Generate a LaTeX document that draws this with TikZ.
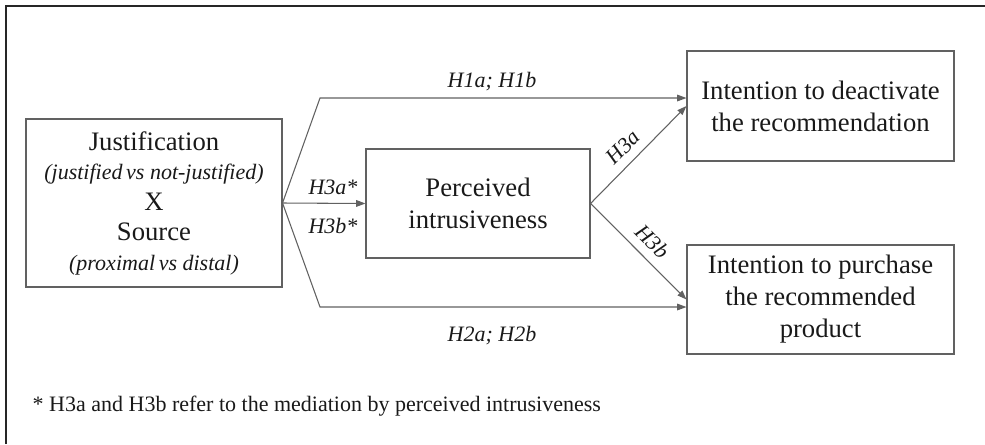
\documentclass[tikz,border=0pt]{standalone}
\usepackage{fontspec}
\setmainfont{Liberation Serif}
\usetikzlibrary{arrows.meta}
\definecolor{linegray}{gray}{0.38}
\definecolor{textgray}{gray}{0.1}
\tikzset{
  varbox/.style = {draw = linegray, line width = 0.8pt, inner sep = 0pt, align = center,
    text = textgray, font = \fontsize{20}{24}\selectfont},
  hyp/.style = {text = textgray, font = \fontsize{16.5}{19}\selectfont\itshape},
  path/.style = {draw = linegray, line width = 0.8pt, -{Triangle[length=7pt, width=5pt]}}
}
\begin{document}
\begin{tikzpicture}[x = 0.75pt, y = -0.75pt]
			\useasboundingbox (0,0) rectangle (985,444);
			\draw[line width = 1pt, black!85] (6,444) -- (6,6) -- (985,6);
			% variables
			\node[varbox, minimum width = 192pt, minimum height = 126pt] (jus) at (154,203)
				{Justification\\[-2pt]{\fontsize{16.5}{19}\selectfont\itshape (justified\,vs not-justified)}\\[-1pt]X\\[-1pt]Source\\[-2pt]{\fontsize{16.5}{19}\selectfont\itshape (proximal\,vs distal)}};
			\node[varbox, minimum width = 168pt, minimum height = 81.75pt] (int) at (478,203.5)
				{Perceived\\intrusiveness};
			\node[varbox, minimum width = 200.25pt, minimum height = 82.5pt] (deac) at (820.5,106)
				{Intention to deactivate\\the recommendation};
			\node[varbox, minimum width = 200.25pt, minimum height = 81.75pt] (purch) at (820.5,299.5)
				{Intention to purchase\\the recommended\\product};
			% paths
			\coordinate (up) at (320,98);
			\coordinate (down) at (320,307);
			\draw[path] (jus.east) -- (up) -- (up -| deac.west);
			\draw[path] (jus.east) -- (down) -- (down -| purch.west);
			\draw[path] (jus.east) -- (int.west);
			\draw[path] (int.east) -- node[hyp, midway, above = 3pt, sloped, xshift = -4pt] (h3a) {H3a} (deac.west);
			\draw[path] (int.east) -- node[hyp, midway, above = 3pt, sloped, xshift = 2pt] (h3b) {H3b} (purch.west);
			% labels
			\node[hyp] (h1) at (492,82) {H1a; H1b};
			\node[hyp] (h2) at (492,336) {H2a; H2b};
			\node[hyp] (h3as) at (333,187) {H3a*};
			\node[hyp] (h3bs) at (333,226) {H3b*};
			\node[anchor = west, text = textgray, font = \fontsize{16.5}{19}\selectfont] (note) at (28,406)
				{* H3a and H3b refer to the mediation by perceived intrusiveness};
		\end{tikzpicture}
\end{document}
